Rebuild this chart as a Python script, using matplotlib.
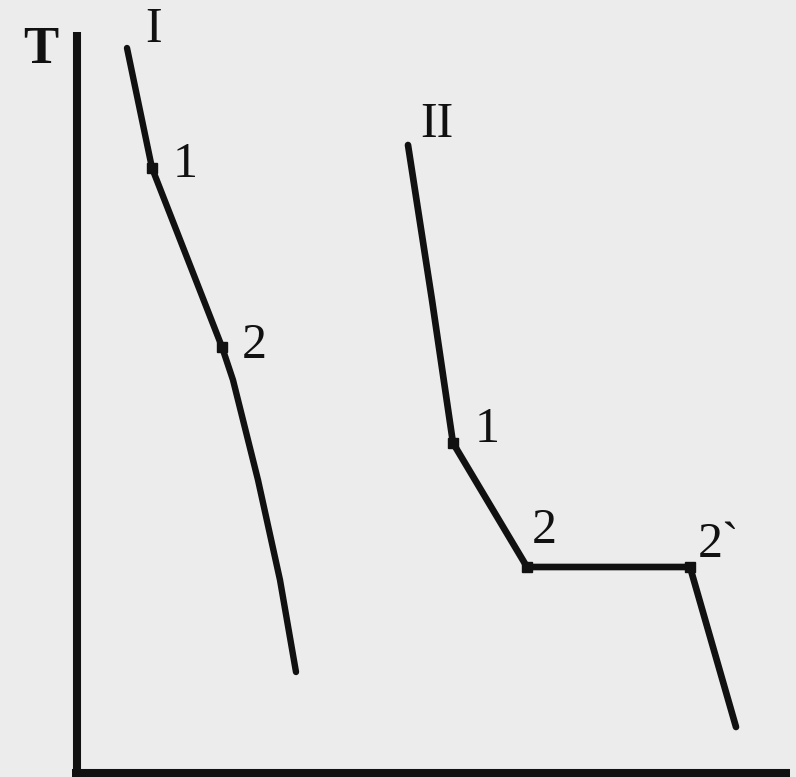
import matplotlib
matplotlib.use("Agg")
import matplotlib.pyplot as plt

# Curve I (x, T) in image units (T axis downward = lower temperature)
curve1_x = [127, 152, 222, 233, 258, 280, 296]
curve1_y = [48, 168, 347, 380, 480, 580, 672]
curve1_marks_x = [152, 222]
curve1_marks_y = [168, 347]

# Curve II
curve2_x = [408, 432, 453, 527, 690, 736]
curve2_y = [145, 300, 443, 567, 567, 727]
curve2_marks_x = [453, 527, 690]
curve2_marks_y = [443, 567, 567]

# Labels: (text, x, baseline y)
labels = [
    ("I", 145, 42),
    ("1", 173, 177),
    ("2", 242, 358),
    ("II", 420, 137),
    ("1", 475, 442),
    ("2", 532, 543),
    ("2`", 698, 557),
]

bg = "#ececec"
fig = plt.figure(figsize=(7.96, 7.77), dpi=100, facecolor=bg)
ax = fig.add_axes([0, 0, 1, 1])
ax.set_facecolor(bg)
ax.set_xlim(0, 796)
ax.set_ylim(777, 0)
ax.axis("off")

# axes lines
ax.plot([77, 77], [32, 777], color="#111111", lw=5.8, solid_capstyle="butt")
ax.plot([72, 790], [773, 773], color="#111111", lw=5.8, solid_capstyle="butt")

ax.plot(curve1_x, curve1_y, color="#111111", lw=4.6, solid_joinstyle="round",
        solid_capstyle="round")
ax.plot(curve1_marks_x, curve1_marks_y, "s", color="#111111", ms=7)

ax.plot(curve2_x, curve2_y, color="#111111", lw=4.8, solid_joinstyle="round",
        solid_capstyle="round")
ax.plot(curve2_marks_x, curve2_marks_y, "s", color="#111111", ms=7.5)

font = ["Liberation Serif", "DejaVu Serif"]
ax.text(23, 63, "T", family=font, fontsize=38, fontweight="bold",
        color="#111111", ha="left", va="baseline")
for txt, x, y in labels:
    ax.text(x, y, txt, family=font, fontsize=36, color="#111111",
            ha="left", va="baseline")

fig.savefig("out.png", dpi=100, facecolor=bg)
